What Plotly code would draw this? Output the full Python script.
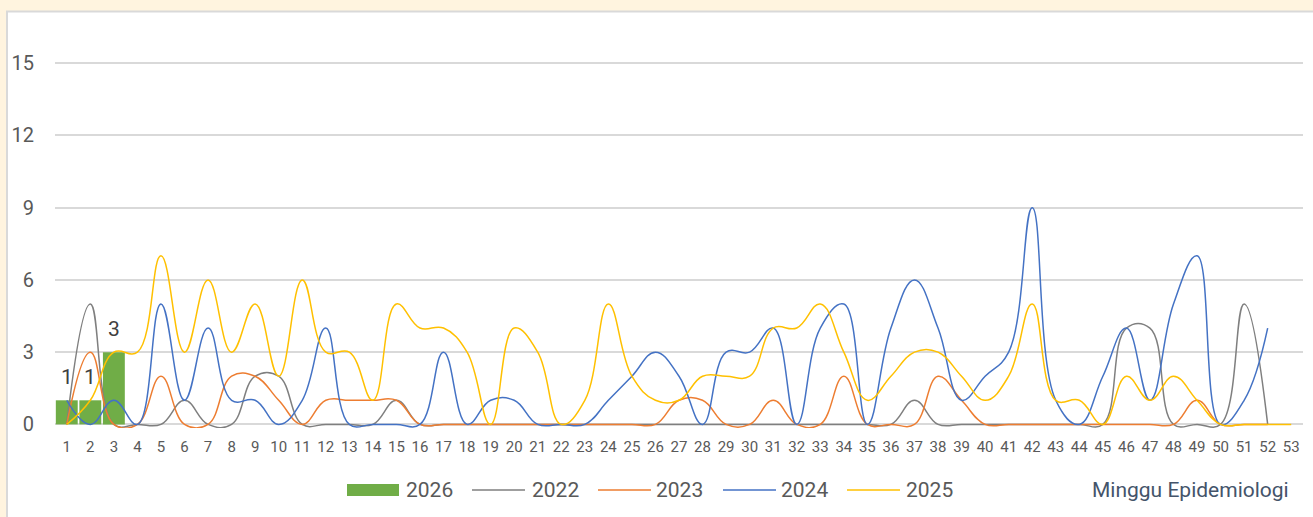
import plotly.graph_objects as go

weeks = list(range(1, 54))

y2026 = [1, 1, 3]
w2026 = [1, 2, 3]

y2022 = [0, 5, 0, 0, 0, 1, 0, 0, 2, 2, 0, 0, 0, 0, 1, 0, 0, 0, 0, 0,
         0, 0, 0, 0, 0, 0, 0, 0, 0, 0, 0, 0, 0, 0, 0, 0, 1, 0, 0, 0,
         0, 0, 0, 0, 0, 4, 4, 0, 0, 0, 5, 0, None]
y2023 = [0, 3, 0, 0, 2, 0, 0, 2, 2, 1, 0, 1, 1, 1, 1, 0, 0, 0, 0, 0,
         0, 0, 0, 0, 0, 0, 1, 1, 0, 0, 1, 0, 0, 2, 0, 0, 0, 2, 1, 0,
         0, 0, 0, 0, 0, 0, 0, 0, 1, 0, 0, 0, None]
y2024 = [1, 0, 1, 0, 5, 1, 4, 1, 1, 0, 1, 4, 0, 0, 0, 0, 3, 0, 1, 1,
         0, 0, 0, 1, 2, 3, 2, 0, 3, 3, 4, 0, 4, 5, 0, 4, 6, 4, 1, 2,
         3, 9, 1, 0, 2, 4, 1, 5, 7, 0, 1, 4, None]
y2025 = [0, 1, 3, 3, 7, 3, 6, 3, 5, 2, 6, 3, 3, 1, 5, 4, 4, 3, 0, 4,
         3, 0, 1, 5, 2, 1, 1, 2, 2, 2, 4, 4, 5, 3, 1, 2, 3, 3, 2, 1,
         2, 5, 1, 1, 0, 2, 1, 2, 1, 0, 0, 0, 0]

line_series = [
    ("2022", y2022, "#7F7F7F"),
    ("2023", y2023, "#ED7D31"),
    ("2024", y2024, "#4472C4"),
    ("2025", y2025, "#FFC000"),
]
bar_color = "#70AD47"
axis_title = "Minggu Epidemiologi"

W, H = 1313, 517
ML, MR, MT, MB = 55, 10, 27, 89
PW, PH = W - ML - MR, H - MT - MB


def px_x(px):
    return (px - ML) / PW


def px_y(py):
    return (H - MB - py) / PH


fig = go.Figure()
fig.add_trace(go.Bar(x=w2026, y=y2026, name="2026", marker_color=bar_color,
                     marker_line_width=0, showlegend=False))
for name, ys, col in line_series:
    fig.add_trace(go.Scatter(x=weeks, y=ys, name=name, mode="lines",
                             line=dict(color=col, width=1.5, shape="spline", smoothing=1.2),
                             connectgaps=False, showlegend=False))

annotations = []
for xv, yv in zip(w2026, y2026):
    annotations.append(dict(x=xv, y=yv, xref="x", yref="y", text=str(yv), showarrow=False,
                            yshift=23, font=dict(family="Roboto", size=21, color="#404040")))

shapes = []
# white panel
shapes.append(dict(type="rect", xref="paper", yref="paper", layer="below",
                   x0=px_x(7), x1=px_x(1330), y0=px_y(540), y1=px_y(11.5),
                   fillcolor="white", line=dict(color="#D9D9D9", width=2)))

# manual legend
leg_y = 490
shapes.append(dict(type="rect", xref="paper", yref="paper",
                   x0=px_x(347), x1=px_x(399), y0=px_y(496), y1=px_y(484),
                   fillcolor=bar_color, line=dict(width=0)))
annotations.append(dict(x=px_x(404), y=px_y(leg_y), xref="paper", yref="paper", text="2026",
                        showarrow=False, xanchor="left", yanchor="middle",
                        font=dict(family="Roboto", size=21, color="#595959")))
leg_pos = [(472, 530), (598, 654), (723, 779), (847, 904)]
for (name, ys, col), (lx, tx) in zip(line_series, leg_pos):
    shapes.append(dict(type="line", xref="paper", yref="paper",
                       x0=px_x(lx), x1=px_x(lx + 53), y0=px_y(leg_y), y1=px_y(leg_y),
                       line=dict(color=col, width=1.5)))
    annotations.append(dict(x=px_x(tx), y=px_y(leg_y), xref="paper", yref="paper", text=name,
                            showarrow=False, xanchor="left", yanchor="middle",
                            font=dict(family="Roboto", size=21, color="#595959")))
annotations.append(dict(x=px_x(1291), y=px_y(leg_y), xref="paper", yref="paper", text=axis_title,
                        showarrow=False, xanchor="right", yanchor="middle",
                        font=dict(family="Roboto", size=21, color="#44546A")))

fig.update_layout(
    width=W, height=H,
    margin=dict(l=ML, r=MR, t=MT, b=MB, pad=0),
    paper_bgcolor="#FFF4DF",
    plot_bgcolor="white",
    bargap=0.07,
    showlegend=False,
    shapes=shapes,
    annotations=annotations,
    font=dict(family="Roboto", color="#595959"),
)
fig.update_xaxes(range=[0.5, 53.5], tickmode="array", tickvals=weeks,
                 ticktext=[str(w) for w in weeks], showgrid=False, zeroline=False,
                 showline=False, ticks="", ticklabelstandoff=8,
                 tickfont=dict(family="Roboto", size=15, color="#595959"))
fig.update_yaxes(range=[-0.15, 16.5], tickmode="array", tickvals=[0, 3, 6, 9, 12, 15],
                 showgrid=True, gridcolor="#D9D9D9", gridwidth=1.5, zeroline=False,
                 showline=False, ticks="", ticklabelstandoff=20,
                 tickfont=dict(family="Roboto", size=20, color="#595959"))

fig.write_html("out.html")
